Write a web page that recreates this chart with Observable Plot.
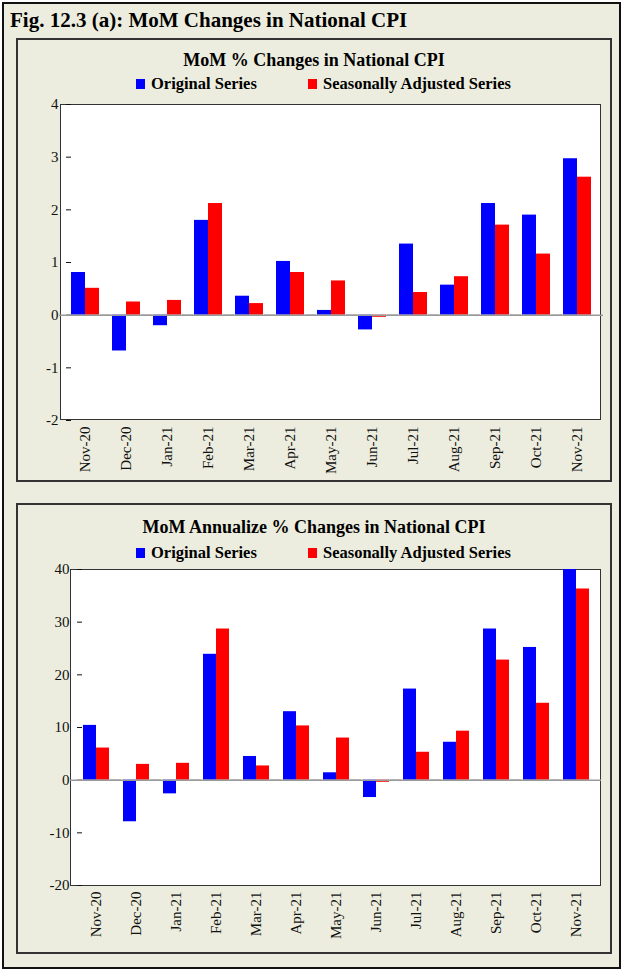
<!DOCTYPE html>
<html><head><meta charset="utf-8">
<script src="https://cdn.jsdelivr.net/npm/d3@7"></script>
<script src="https://cdn.jsdelivr.net/npm/@observablehq/plot@0.6"></script>
<style>
body{margin:0;background:#fff;font-family:"Liberation Serif",serif;}
#page{position:absolute;left:2px;top:2px;width:615px;height:963px;background:#ecedde;border:2px solid #111;}
.fig{position:absolute;left:6px;top:4px;font-size:21px;font-weight:bold;}
.panel{position:absolute;left:12px;width:592px;background:#ecedde;border:2px solid #333;}
.ttl{position:absolute;left:0;width:100%;text-align:center;font-size:18px;font-weight:bold;}
.leg{position:absolute;font-size:16.5px;font-weight:bold;}
.sw{display:inline-block;width:9px;height:10px;margin-right:6px;}
.area{position:absolute;background:#fff;border:1.5px solid #333;box-sizing:border-box;}
.panel svg{position:absolute;left:0;overflow:visible;}
</style></head><body>
<div id="page">
<div class="fig">Fig. 12.3 (a): MoM Changes in National CPI</div>
<div class="panel" id="p1" style="top:34px;height:440px;">
 <div class="ttl" style="top:10px">MoM % Changes in National CPI</div>
 <div class="leg" style="left:118px;top:34px"><span class="sw" style="background:#0000ff"></span>Original Series</div>
 <div class="leg" style="left:290px;top:34px"><span class="sw" style="background:#ff0000"></span>Seasonally Adjusted Series</div>
 <div class="area" style="left:42px;top:64px;width:541px;height:316px"></div>
</div>
<div class="panel" id="p2" style="top:499px;height:447px;">
 <div class="ttl" style="top:12px">MoM Annualize % Changes in National CPI</div>
 <div class="leg" style="left:118px;top:38px"><span class="sw" style="background:#0000ff"></span>Original Series</div>
 <div class="leg" style="left:290px;top:38px"><span class="sw" style="background:#ff0000"></span>Seasonally Adjusted Series</div>
 <div class="area" style="left:52px;top:64px;width:531px;height:317px"></div>
</div>
</div>
<script>
const months = ["Nov-20","Dec-20","Jan-21","Feb-21","Mar-21","Apr-21","May-21","Jun-21","Jul-21","Aug-21","Sep-21","Oct-21","Nov-21"];
const series = ["Original Series","Seasonally Adjusted Series"];
const momOrig = [0.81,-0.68,-0.2,1.8,0.36,1.02,0.09,-0.28,1.35,0.57,2.12,1.9,2.97];
const momSA = [0.51,0.25,0.28,2.12,0.22,0.81,0.65,-0.04,0.43,0.73,1.71,1.16,2.62];
const annOrig = [10.4,-7.9,-2.6,23.9,4.5,13.0,1.4,-3.3,17.3,7.2,28.7,25.2,42.0];
const annSA = [6.1,3.0,3.2,28.7,2.7,10.3,8.0,-0.4,5.3,9.3,22.8,14.6,36.3];

function rows(a, b) {
  return months.flatMap((m, i) => [
    {month: m, s: series[0], v: a[i]},
    {month: m, s: series[1], v: b[i]}
  ]);
}

function chart(data, domain, ticks, ml) {
  return Plot.plot({
    width: 592, height: 390,
    marginLeft: ml, marginRight: 9, marginTop: 14, marginBottom: 60,
    style: {fontFamily: "Liberation Serif, serif", fontSize: "15px", color: "#111", background: "transparent"},
    fx: {domain: months, label: null, tickRotate: -90, paddingInner: 0.32, paddingOuter: 0.16, tickSize: 0, tickPadding: 6},
    x: {domain: series, axis: null, padding: 0},
    y: {domain: domain, ticks: ticks, label: null, clamp: true, tickSize: 5, tickPadding: 8, tickFormat: d => String(d)},
    color: {domain: series, range: ["#0000ff", "#ff0000"]},
    marks: [
      Plot.barY(data, {fx: "month", x: "s", y: "v", fill: "s", inset: 0}),
      Plot.ruleY([0], {stroke: "#999", strokeWidth: 1.5, insetLeft: -12, insetRight: -12})
    ]
  });
}

const c1 = chart(rows(momOrig, momSA), [-2, 4], [-2,-1,0,1,2,3,4], 42);
c1.style.top = "50px";
document.getElementById("p1").append(c1);
const c2 = chart(rows(annOrig, annSA), [-20, 40], [-20,-10,0,10,20,30,40], 52);
c2.style.top = "50px";
document.getElementById("p2").append(c2);
</script>
</body></html>
